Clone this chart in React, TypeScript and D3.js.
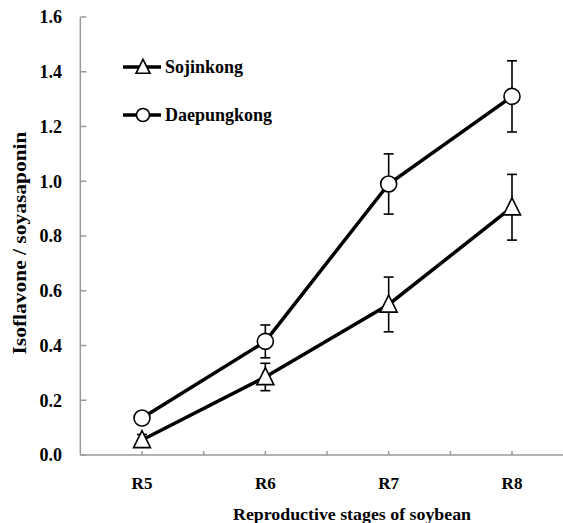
import React, { useEffect } from 'react';
import * as d3 from 'd3';

const stages = ['R5', 'R6', 'R7', 'R8'];
const sojinkong = [0.055, 0.285, 0.55, 0.905];
const sojinkongErr = [0.02, 0.05, 0.1, 0.12];
const daepungkong = [0.135, 0.415, 0.99, 1.31];
const daepungkongErr = [0.02, 0.06, 0.11, 0.13];
const yTicks = [0, 0.2, 0.4, 0.6, 0.8, 1.0, 1.2, 1.4, 1.6];

const W = 563;
const H = 523;
const FONT = "'Liberation Serif', 'Times New Roman', 'DejaVu Serif', serif";
const AXIS = '#9a9a9a';

const tri = (cx: number, cy: number, s: number) =>
  `M${cx},${cy - s * 0.55} L${cx + s / 2},${cy + s * 0.45} L${cx - s / 2},${cy + s * 0.45} Z`;

export default function App() {
  useEffect(() => {
    document.body.style.margin = '0';
  }, []);

  const x = d3.scalePoint<string>().domain(stages).range([142, 512]);
  const step = x.step();
  const y = d3.scaleLinear().domain([0, 1.6]).range([455, 17]);

  const line = d3.line<number>()
    .x((_, i) => x(stages[i]) as number)
    .y(d => y(d));

  // tick marks at category centres and between them
  const xTickPos: number[] = [];
  stages.forEach(s => {
    const c = x(s) as number;
    xTickPos.push(c);
    xTickPos.push(c + step / 2);
  });

  const series = [
    { name: 'Sojinkong', values: sojinkong, err: sojinkongErr, marker: 'tri' },
    { name: 'Daepungkong', values: daepungkong, err: daepungkongErr, marker: 'circle' },
  ];

  const x0 = x(stages[0])! - step / 2;

  return (
    <svg width={W} height={H} style={{ display: 'block', background: '#fff', fontFamily: FONT, fontWeight: 'bold' }}>
      {/* y axis */}
      <line x1={x0} x2={x0} y1={y(1.6)} y2={y(0)} stroke={AXIS} strokeWidth={1.5} />
      {yTicks.map(t => (
        <g key={t}>
          <line x1={x0} x2={x0 + 6} y1={y(t)} y2={y(t)} stroke={AXIS} strokeWidth={1.5} />
          <text x={62} y={y(t)} dy="0.35em" textAnchor="end" fontSize={18}>{t.toFixed(1)}</text>
        </g>
      ))}
      {/* x axis */}
      <line x1={x0} x2={W} y1={y(0)} y2={y(0)} stroke={AXIS} strokeWidth={1.5} />
      {xTickPos.map(p => (
        <line key={p} x1={p} x2={p} y1={y(0)} y2={y(0) - 4} stroke={AXIS} strokeWidth={1.5} />
      ))}
      {stages.map(s => (
        <text key={s} x={x(s)} y={489} textAnchor="middle" fontSize={17}>{s}</text>
      ))}
      <text x={352} y={520} textAnchor="middle" fontSize={17.5} textLength={238} lengthAdjust="spacingAndGlyphs">Reproductive stages of soybean</text>
      <text transform={`translate(26,243) rotate(-90)`} textAnchor="middle" fontSize={18} textLength={223} lengthAdjust="spacingAndGlyphs">Isoflavone / soyasaponin</text>

      {/* error bars */}
      {series.map(sr => sr.values.map((v, i) => {
        const cx = x(stages[i]) as number;
        return (
          <g key={sr.name + i} stroke="#000" strokeWidth={1.6}>
            <line x1={cx} x2={cx} y1={y(v + sr.err[i])} y2={y(v - sr.err[i])} />
            <line x1={cx - 5} x2={cx + 5} y1={y(v + sr.err[i])} y2={y(v + sr.err[i])} />
            <line x1={cx - 5} x2={cx + 5} y1={y(v - sr.err[i])} y2={y(v - sr.err[i])} />
          </g>
        );
      }))}

      {/* lines */}
      {series.map(sr => (
        <path key={sr.name} d={line(sr.values) || ''} fill="none" stroke="#000" strokeWidth={3.5} />
      ))}

      {/* markers */}
      {series.map(sr => sr.values.map((v, i) => {
        const cx = x(stages[i]) as number;
        return sr.marker === 'tri'
          ? <path key={sr.name + i} d={tri(cx, y(v), 17)} fill="#fff" stroke="#000" strokeWidth={1.6} />
          : <circle key={sr.name + i} cx={cx} cy={y(v)} r={8} fill="#fff" stroke="#000" strokeWidth={1.6} />;
      }))}

      {/* legend */}
      {series.map((sr, i) => {
        const ly = 67 + i * 48;
        return (
          <g key={sr.name}>
            <line x1={123} x2={161} y1={ly} y2={ly} stroke="#000" strokeWidth={3.5} />
            {sr.marker === 'tri'
              ? <path d={tri(143, ly, 14)} fill="#fff" stroke="#000" strokeWidth={1.6} />
              : <circle cx={143} cy={ly} r={6.5} fill="#fff" stroke="#000" strokeWidth={1.6} />}
            <text x={165} y={ly} dy="0.35em" fontSize={18}>{sr.name}</text>
          </g>
        );
      })}
    </svg>
  );
}
